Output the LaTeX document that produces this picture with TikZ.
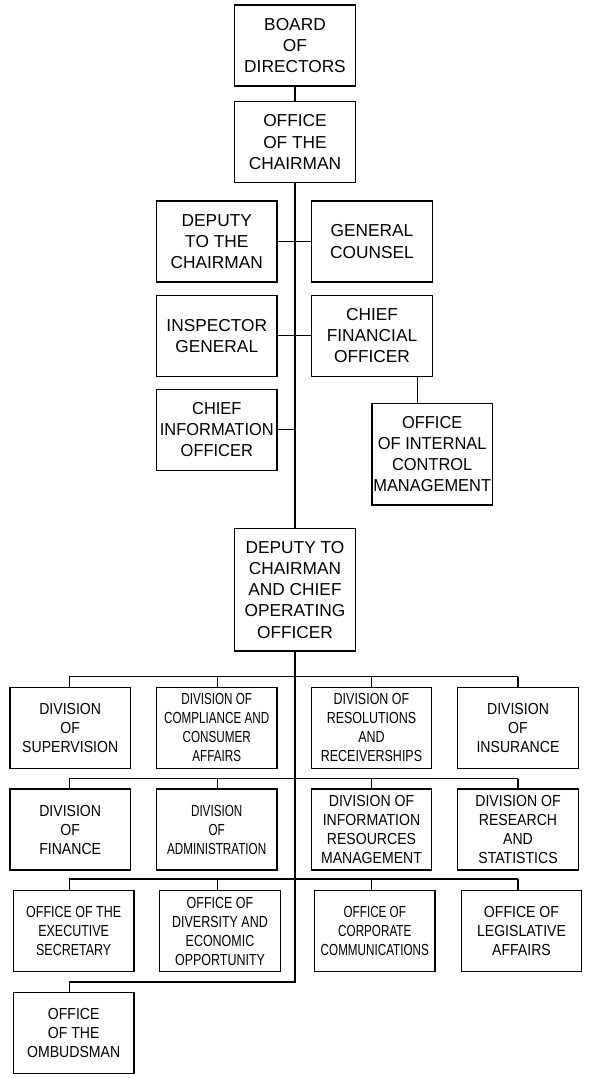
\documentclass[tikz,border=0pt]{standalone}
\usepackage{fontspec}
\setmainfont{Liberation Sans}
\newfontfamily\fTop{Liberation Sans}
\newfontfamily\fTopC[FakeStretch=0.95]{Liberation Sans}
\newfontfamily\fA[FakeStretch=0.88]{Liberation Sans}
\newfontfamily\fB[FakeStretch=0.78]{Liberation Sans}
\newfontfamily\fC[FakeStretch=0.73]{Liberation Sans}
\tikzset{
  box/.style={draw=black, line width=1.2pt, inner sep=0pt, align=center,
    minimum width=120.5pt, minimum height=81pt},
  topbox/.style={box, font=\fTop\fontsize{17.3pt}{21.3pt}\selectfont},
  topboxc/.style={box, font=\fTopC\fontsize{17.3pt}{21.2pt}\selectfont},
  lowA/.style={box, font=\fA\fontsize{16pt}{19pt}\selectfont},
  lowB/.style={box, font=\fB\fontsize{16pt}{19pt}\selectfont},
  lowC/.style={box, font=\fC\fontsize{16pt}{19pt}\selectfont},
  conn/.style={draw=black, line width=1.2pt}
}
\begin{document}
\begin{tikzpicture}[x=1pt,y=-1pt]
\useasboundingbox (0,0) rectangle (589,1078);
% top part
\node[topbox] (board) at (295,45.5) {BOARD\\OF\\DIRECTORS};
\node[topbox] (chair) at (295,142.2) {OFFICE\\OF THE\\CHAIRMAN};
\node[topbox] (dep) at (216.8,241.5) {DEPUTY\\TO THE\\CHAIRMAN};
\node[topbox] (gc) at (372,241.5) {GENERAL\\COUNSEL};
\node[topbox] (ig) at (216.8,335.7) {INSPECTOR\\GENERAL};
\node[topbox] (cfo) at (372,335.7) {CHIEF\\FINANCIAL\\OFFICER};
\node[topboxc] (cio) at (216.8,429.7) {CHIEF\\INFORMATION\\OFFICER};
\node[topboxc, minimum height=101.7pt] (oicm) at (432.2,454.2) {OFFICE\\OF INTERNAL\\CONTROL\\MANAGEMENT};
\node[topbox, minimum height=122.7pt] (dcoo) at (295,589.7) {DEPUTY TO\\CHAIRMAN\\AND CHIEF\\OPERATING\\OFFICER};
% row 1
\node[lowA] (sup) at (70.2,727.8) {DIVISION\\OF\\SUPERVISION};
\node[lowC] (comp) at (216.7,727.8) {DIVISION OF\\COMPLIANCE AND\\CONSUMER\\AFFAIRS};
\node[lowB] (res) at (371.5,727.8) {DIVISION OF\\RESOLUTIONS\\AND\\RECEIVERSHIPS};
\node[lowA] (ins) at (518,727.8) {DIVISION\\OF\\INSURANCE};
% row 2
\node[lowA] (fin) at (70.2,829.5) {DIVISION\\OF\\FINANCE};
\node[lowC] (adm) at (216.7,829.5) {DIVISION\\OF\\ADMINISTRATION};
\node[lowA] (irm) at (371.5,829.5) {DIVISION OF\\INFORMATION\\RESOURCES\\MANAGEMENT};
\node[lowA] (rs) at (518,829.5) {DIVISION OF\\RESEARCH\\AND\\STATISTICS};
% row 3
\node[lowB] (exe) at (73.7,931) {OFFICE OF THE\\EXECUTIVE\\SECRETARY};
\node[lowB] (div) at (220,931) {OFFICE OF\\DIVERSITY AND\\ECONOMIC\\OPPORTUNITY};
\node[lowC] (corp) at (374.8,931) {OFFICE OF\\CORPORATE\\COMMUNICATIONS};
\node[lowA] (leg) at (521.5,931) {OFFICE OF\\LEGISLATIVE\\AFFAIRS};
% row 4
\node[lowA] (omb) at (73.7,1032.7) {OFFICE\\OF THE\\OMBUDSMAN};
% columns and buses
\coordinate (c1) at (69.3,0);
\coordinate (c2) at (217.3,0);
\coordinate (c3) at (371.3,0);
\coordinate (c4) at (518,0);
\coordinate (b1) at (69.3,676.7);
\coordinate (b2) at (69.3,778.5);
\coordinate (b3) at (69.3,879);
\coordinate (b4) at (69.3,982);
% connectors top
\draw[conn] (board) -- (chair);
\draw[conn] (chair) -- (dcoo);
\draw[conn] (dep) -- (gc);
\draw[conn] (ig) -- (cfo);
\draw[conn] (cio.east) -- (cio.east -| chair.south);
\draw[conn] ([xshift=-15.6pt]cfo.south east) -- ([xshift=-15.6pt]cfo.south east |- oicm.north);
% spine and buses
\draw[conn] (dcoo.south) |- (b4) -- (b4 |- omb.north);
\draw[conn] (b1) -- (b1 -| c4);
\draw[conn] (b2) -- (b2 -| c4);
\draw[conn] (b3) -- (b3 -| c4);
\draw[conn] (c1 |- b1) -- (c1 |- sup.north);
\draw[conn] (c2 |- b1) -- (c2 |- comp.north);
\draw[conn] (c3 |- b1) -- (c3 |- res.north);
\draw[conn] (c4 |- b1) -- (c4 |- ins.north);
\draw[conn] (c1 |- b2) -- (c1 |- fin.north);
\draw[conn] (c2 |- b2) -- (c2 |- adm.north);
\draw[conn] (c3 |- b2) -- (c3 |- irm.north);
\draw[conn] (c4 |- b2) -- (c4 |- rs.north);
\draw[conn] (c1 |- b3) -- (c1 |- exe.north);
\draw[conn] (c2 |- b3) -- (c2 |- div.north);
\draw[conn] (c3 |- b3) -- (c3 |- corp.north);
\draw[conn] (c4 |- b3) -- (c4 |- leg.north);
\end{tikzpicture}
\end{document}
